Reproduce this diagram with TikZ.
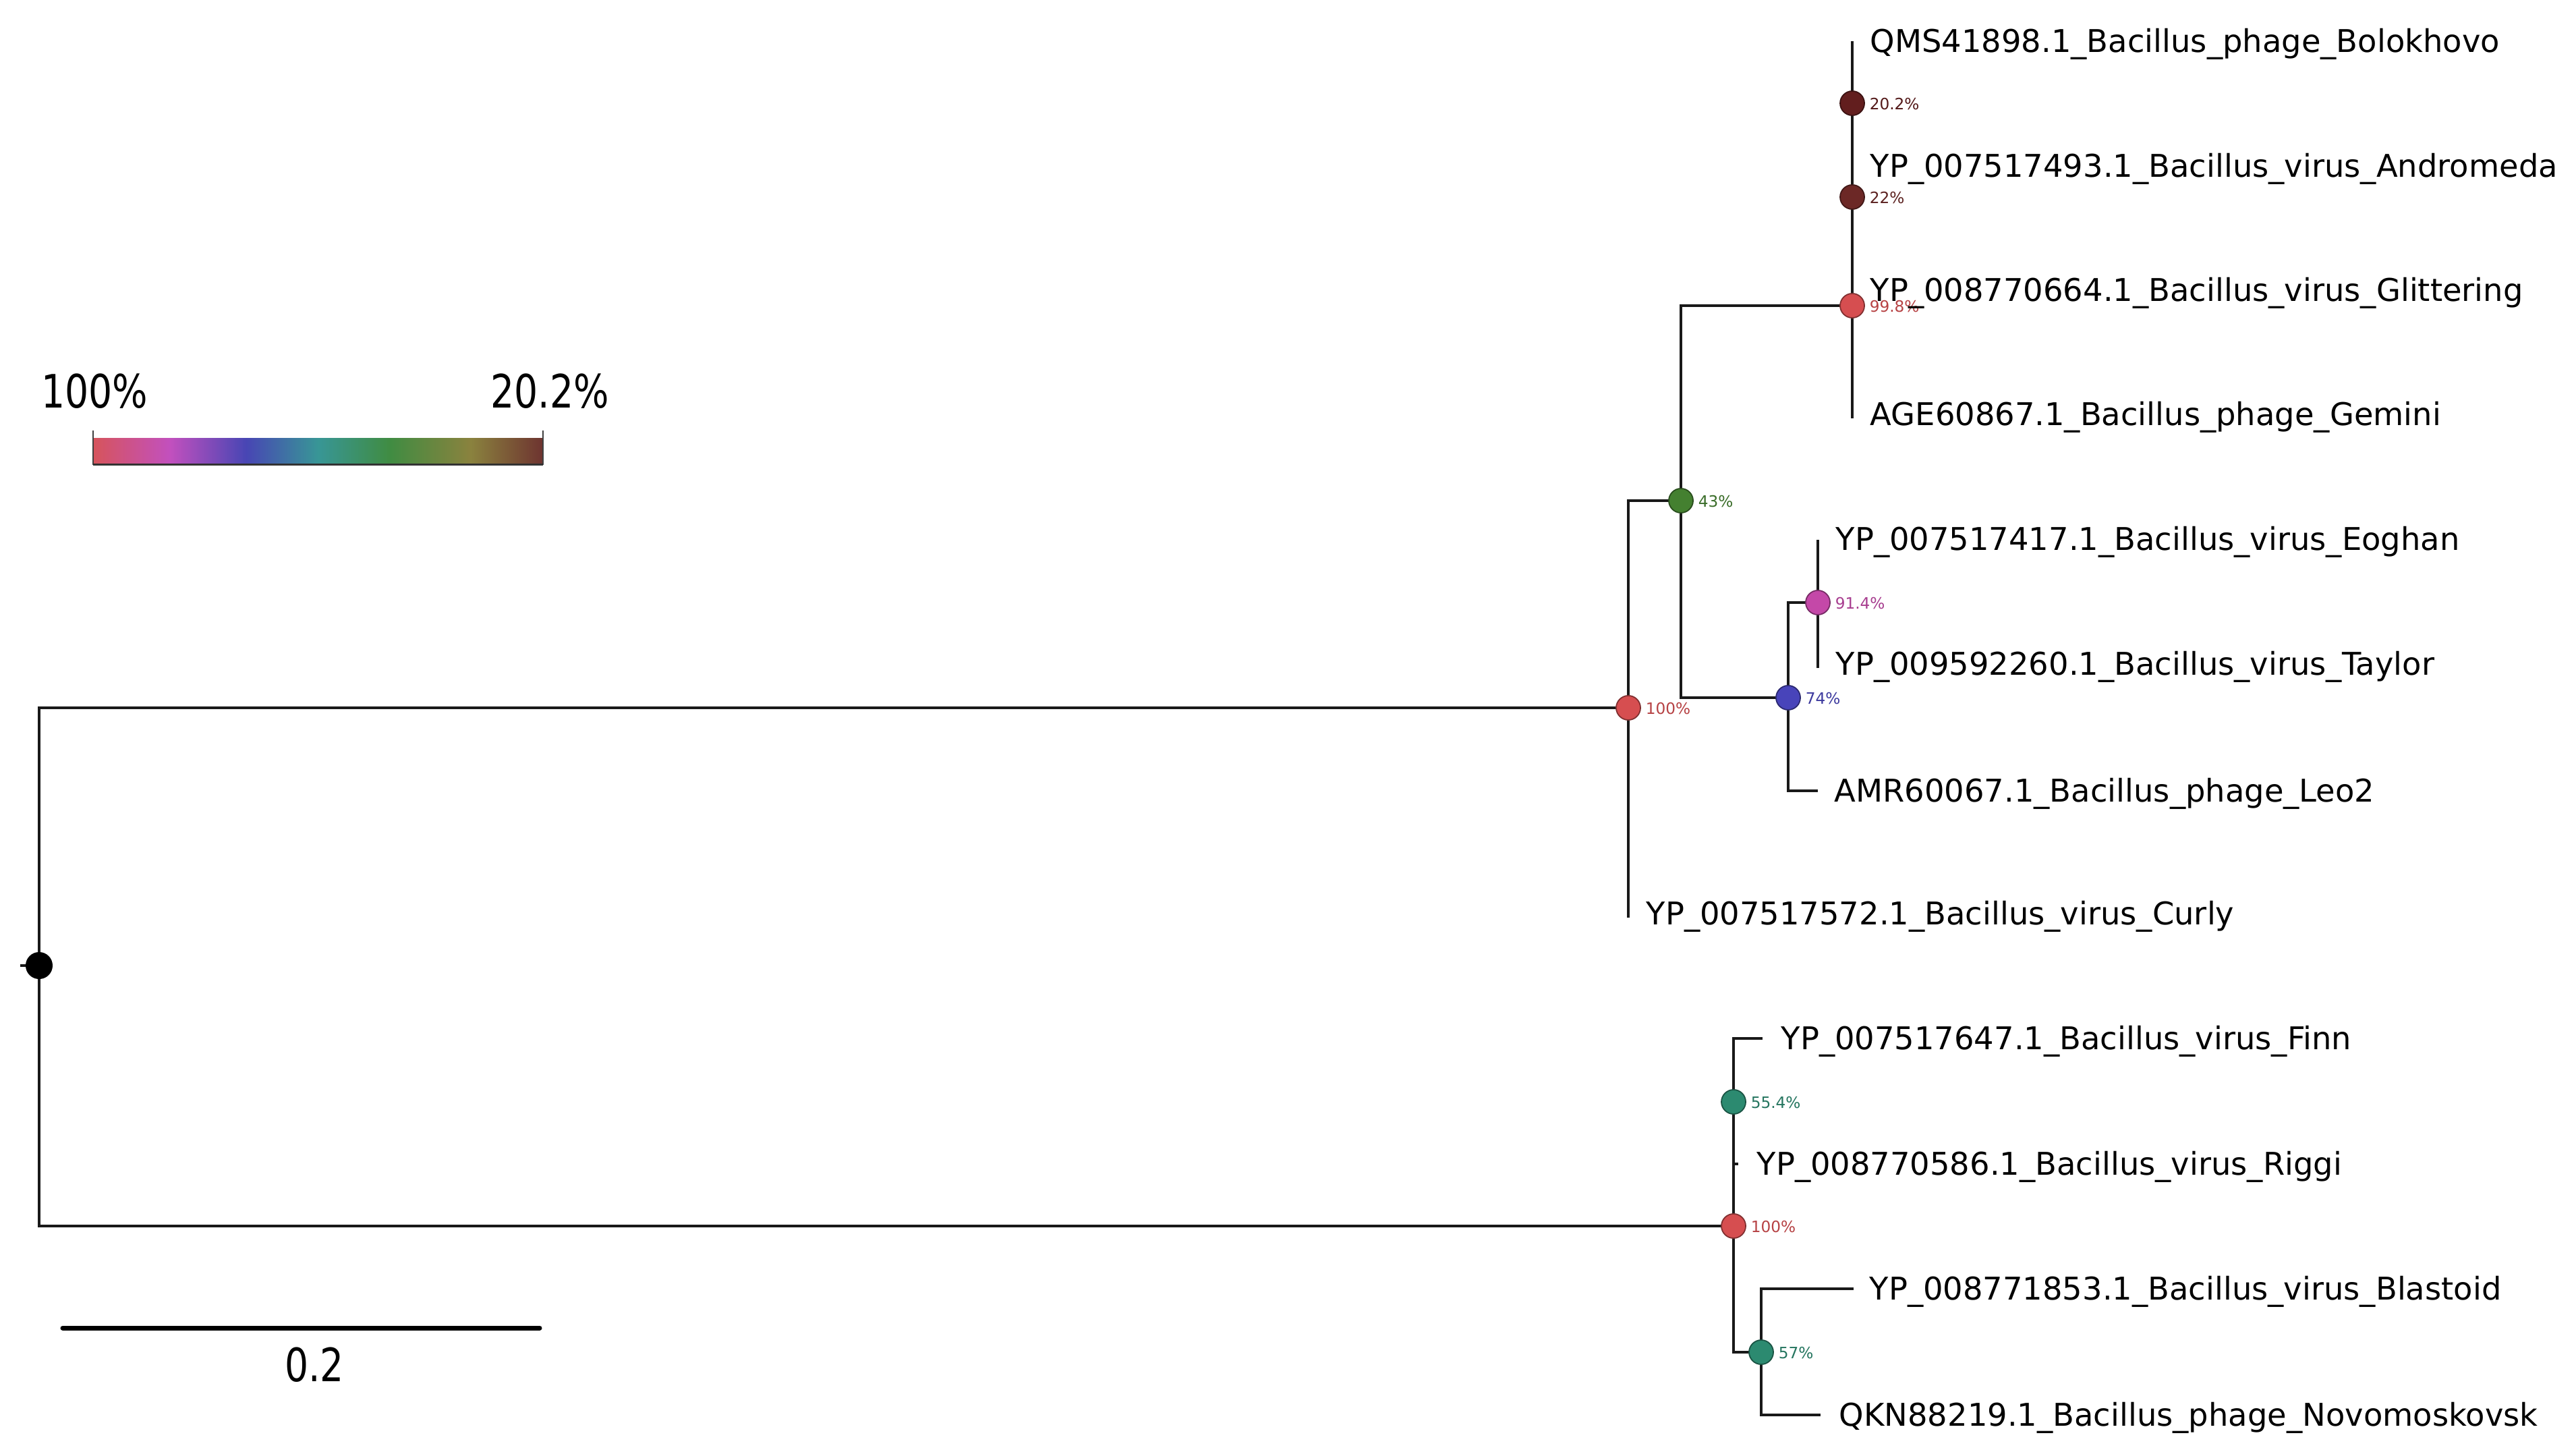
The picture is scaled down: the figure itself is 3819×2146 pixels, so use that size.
\documentclass[tikz,border=0pt]{standalone}
\usepackage{fontspec}
\setmainfont{DejaVu Sans}
\usetikzlibrary{backgrounds}
\definecolor{supRed}{RGB}{214,78,80}
\definecolor{supPink}{RGB}{196,72,168}
\definecolor{supBlue}{RGB}{72,68,186}
\definecolor{supTeal}{RGB}{44,138,112}
\definecolor{supGreen}{RGB}{68,128,48}
\definecolor{supBrown}{RGB}{108,40,38}
\definecolor{supDark}{RGB}{98,30,30}
\definecolor{cbA}{RGB}{214,84,92}
\definecolor{cbB}{RGB}{194,80,190}
\definecolor{cbC}{RGB}{72,70,180}
\definecolor{cbD}{RGB}{56,150,150}
\definecolor{cbE}{RGB}{64,140,66}
\definecolor{cbF}{RGB}{138,130,62}
\definecolor{cbG}{RGB}{110,52,48}
\pgfdeclarehorizontalshading{simbar}{100bp}{color(0bp)=(cbA); color(25bp)=(cbA); color(33.5bp)=(cbB); color(42bp)=(cbC); color(50bp)=(cbD); color(58bp)=(cbE); color(67bp)=(cbF); color(75bp)=(cbG); color(100bp)=(cbG)}
\tikzstyle{support} = [circle, inner sep=0pt, outer sep=0pt, minimum size=0.36cm, line width=0.5pt]
\tikzstyle{rootdot} = [circle, fill=black, inner sep=0pt, outer sep=0pt, minimum size=0.4cm]
\tikzstyle{leaf} = [anchor=base west, inner sep=0pt, yshift=-4.8pt, font=\fontsize{13.2}{15}\selectfont]
\tikzstyle{pct} = [anchor=base west, inner sep=0pt, xshift=0.07cm, yshift=-2.8pt, font=\fontsize{6.6}{8}\selectfont]
\tikzstyle{branch} = [line width=0.95pt, black!90]
\tikzstyle{legendtext} = [anchor=base, inner sep=0pt, xscale=0.81, yshift=-7pt, font=\fontsize{19.4}{22}\selectfont]

\begin{document}
\begin{tikzpicture}[x=0.01cm, y=-0.01cm]
  \useasboundingbox (0,0) rectangle (3819,2146);
  % colour key
  \node (cbar) [shade, shading=simbar, minimum width=6.65cm, minimum height=0.38cm, inner sep=0pt] at (471.5,669) {};
  \node (cbHigh) [legendtext] at (140,580) {100\%};
  \node (cbLow) [legendtext] at (815,580) {20.2\%};
  \draw [black!75, line width=0.6pt] (cbar.south west) -- ++(0,-51);
  \draw [black!75, line width=0.6pt] (cbar.south east) -- ++(0,-51);
  \draw [black!80, line width=0.8pt] (cbar.south west) -- (cbar.south east);
  % scale bar
  \coordinate (sbL) at (93,1968);
  \coordinate (sbR) at (800,1968);
  \draw [line width=2pt, line cap=round] (sbL) -- (sbR);
  \node (sbText) [legendtext] at (466,2023) {0.2};
  % internal nodes
  \node (root) [rootdot] at (58,1431) {};
  \coordinate (rootstub) at (30,1431);
  \node (nUp) [support, fill=supRed, draw=supRed!60!black] at (2414,1049) {};
  \node (n43) [support, fill=supGreen, draw=supGreen!60!black] at (2492,742) {};
  \node (n99) [support, fill=supRed, draw=supRed!60!black] at (2746,453) {};
  \node (n22) [support, fill=supBrown, draw=supBrown!60!black] at (2746,292) {};
  \node (n20) [support, fill=supDark, draw=supDark!60!black] at (2746,153) {};
  \node (n74) [support, fill=supBlue, draw=supBlue!60!black] at (2651,1034) {};
  \node (n91) [support, fill=supPink, draw=supPink!60!black] at (2695,893) {};
  \node (nLow) [support, fill=supRed, draw=supRed!60!black] at (2570,1817) {};
  \node (n55) [support, fill=supTeal, draw=supTeal!60!black] at (2570,1633) {};
  \node (n57) [support, fill=supTeal, draw=supTeal!60!black] at (2611,2004) {};
  % support values
  \node (p100a) [pct, text=supRed!85!black] at (nUp.east) {100\%};
  \node (p43) [pct, text=supGreen!85!black] at (n43.east) {43\%};
  \node (p998) [pct, text=supRed!85!black] at (n99.east) {99.8\%};
  \node (p22) [pct, text=supBrown!85!black] at (n22.east) {22\%};
  \node (p202) [pct, text=supDark!85!black] at (n20.east) {20.2\%};
  \node (p74) [pct, text=supBlue!85!black] at (n74.east) {74\%};
  \node (p914) [pct, text=supPink!85!black] at (n91.east) {91.4\%};
  \node (p100b) [pct, text=supRed!85!black] at (nLow.east) {100\%};
  \node (p554) [pct, text=supTeal!85!black] at (n55.east) {55.4\%};
  \node (p57) [pct, text=supTeal!85!black] at (n57.east) {57\%};
  % leaves
  \coordinate (tBolo) at (2746,61);
  \coordinate (tGemini) at (2746,620);
  \coordinate (tEoghan) at (2695,800);
  \coordinate (tTaylor) at (2695,990);
  \coordinate (tLeo) at (2695,1172);
  \coordinate (tCurly) at (2414,1360);
  \coordinate (tFinn) at (2613,1539);
  \coordinate (tRiggi) at (2577,1725);
  \coordinate (tBlast) at (2748,1910);
  \coordinate (tNovo) at (2699,2097);
  \node (Bolo) [leaf] at (2772,61) {QMS41898.1\_Bacillus\_phage\_Bolokhovo};
  \node (Andro) [leaf] at (2772,246) {YP\_007517493.1\_Bacillus\_virus\_Andromeda};
  \node (Glitter) [leaf] at (2772,430) {YP\_008770664.1\_Bacillus\_virus\_Glittering};
  \node (Gemini) [leaf] at (2772,614) {AGE60867.1\_Bacillus\_phage\_Gemini};
  \node (Eoghan) [leaf] at (2721,799) {YP\_007517417.1\_Bacillus\_virus\_Eoghan};
  \node (Taylor) [leaf] at (2721,984) {YP\_009592260.1\_Bacillus\_virus\_Taylor};
  \node (Leo) [leaf] at (2719,1172) {AMR60067.1\_Bacillus\_phage\_Leo2};
  \node (Curly) [leaf] at (2440,1354) {YP\_007517572.1\_Bacillus\_virus\_Curly};
  \node (Finn) [leaf] at (2640,1539) {YP\_007517647.1\_Bacillus\_virus\_Finn};
  \node (Riggi) [leaf] at (2604,1725) {YP\_008770586.1\_Bacillus\_virus\_Riggi};
  \node (Blast) [leaf] at (2771,1910) {YP\_008771853.1\_Bacillus\_virus\_Blastoid};
  \node (Novo) [leaf] at (2726,2097) {QKN88219.1\_Bacillus\_phage\_Novomoskovsk};
  % branches
  \begin{scope}[on background layer]
    \draw [branch] (rootstub) -- (root.center);
    \draw [branch] (nUp.center) -| (root.center) |- (nLow.center);
    \draw [branch] (n43.center) -| (nUp.center) -- (tCurly);
    \draw [branch] (n99.center) -| (n43.center) |- (n74.center);
    \draw [branch] (tBolo) -- (tGemini);
    \draw [branch] (n91.center) -| (n74.center) |- (tLeo);
    \draw [branch] (tEoghan) -- (tTaylor);
    \draw [branch] (tFinn) -| (nLow.center) |- (n57.center);
    \draw [branch] (tRiggi) -- (tRiggi -| nLow.center);
    \draw [branch] (tBlast) -| (n57.center) |- (tNovo);
  \end{scope}
\end{tikzpicture}
\end{document}
